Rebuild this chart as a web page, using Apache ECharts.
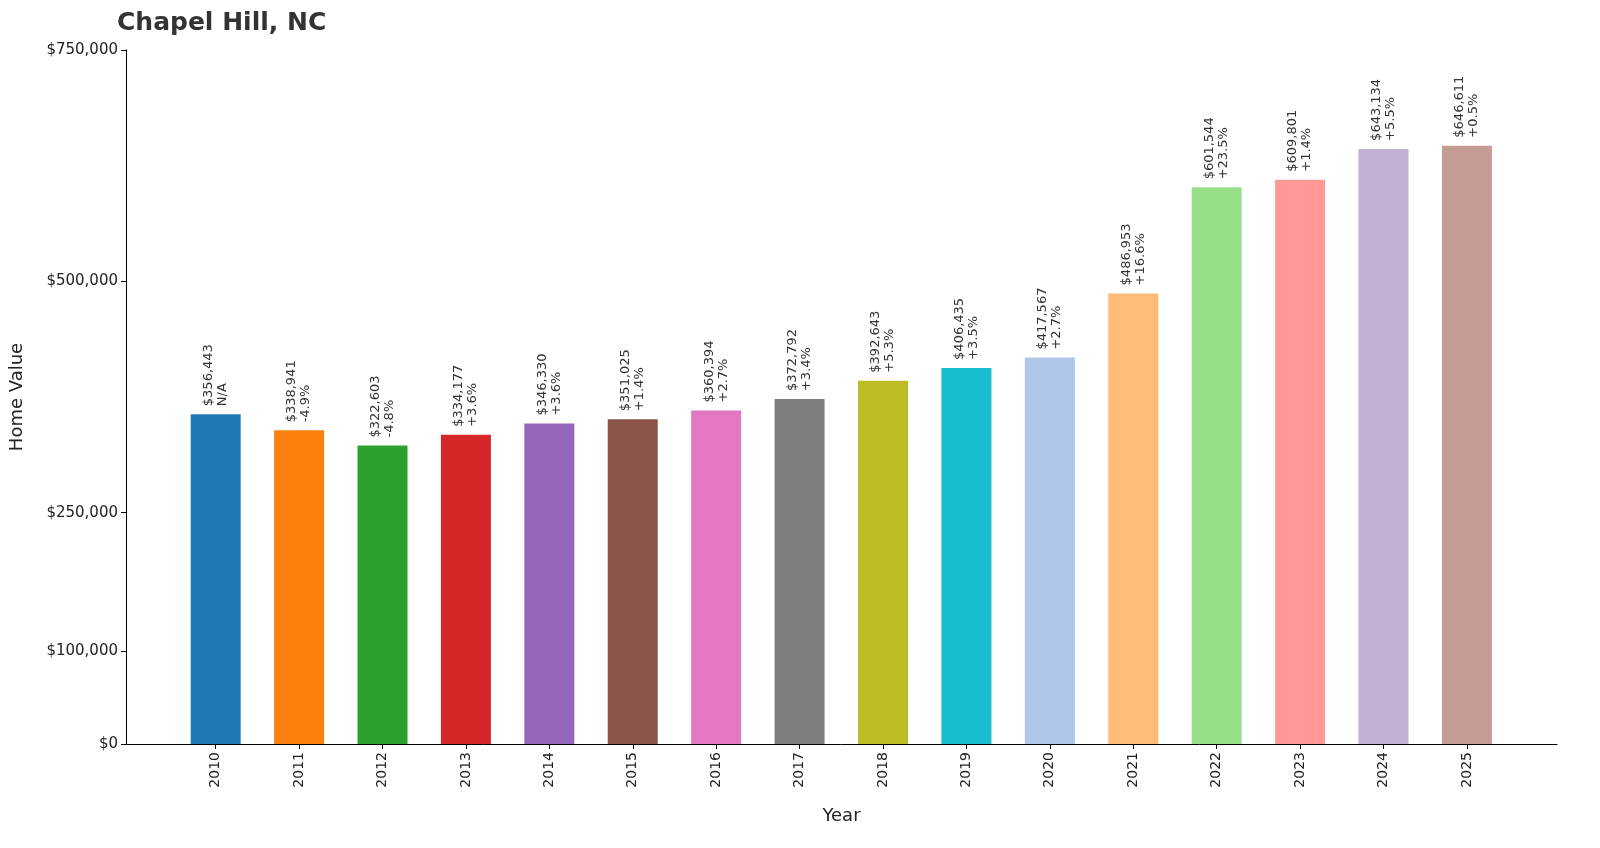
<!DOCTYPE html>
<html><head><meta charset="utf-8">
<script src="https://cdn.jsdelivr.net/npm/echarts@6/dist/echarts.min.js"></script>
<style>body{margin:0}#c{width:1600px;height:848px}</style>
</head><body><div id="c"></div>
<script>
var years = ["2010","2011","2012","2013","2014","2015","2016","2017","2018","2019","2020","2021","2022","2023","2024","2025"];
var values = [356443,338941,322603,334177,346330,351025,360394,372792,392643,406435,417567,486953,601544,609801,643134,646611];
var changes = ["N/A","-4.9%","-4.8%","+3.6%","+3.6%","+1.4%","+2.7%","+3.4%","+5.3%","+3.5%","+2.7%","+16.6%","+23.5%","+1.4%","+5.5%","+0.5%"];
var yTicks = [0,100000,250000,500000,750000];
var colors = ["#1f77b4","#ff7f0e","#2ca02c","#d62728","#9467bd","#8c564b","#e377c2","#7f7f7f","#bcbd22","#17becf","#aec7e8","#ffbb78","#98df8a","#ff9896","#c5b0d5","#c49c94"];

function money(v) { return "$" + v.toLocaleString("en-US"); }

var chart = echarts.init(document.getElementById("c"));
var font = "DejaVu Sans";
chart.setOption({
    textStyle: { fontFamily: font },
    title: { text: "Chapel Hill, NC", left: 112, top: 6, textStyle: { fontFamily: font, fontSize: 25, fontWeight: "bold", color: "#333" } },
    grid: { left: 121, right: 43, top: 50, bottom: 104 },
    xAxis: {
        type: "value", min: -1.075, max: 16.08,
        name: "Year", nameLocation: "middle", nameGap: 63,
        nameTextStyle: { fontSize: 18, color: "#222" },
        splitLine: { show: false },
        axisLine: { lineStyle: { color: "#000" } },
        axisTick: { customValues: years.map(function (y, i) { return i; }), length: 5, lineStyle: { color: "#000" } },
        axisLabel: {
            customValues: years.map(function (y, i) { return i; }),
            rotate: 90, fontSize: 14, color: "#222",
            formatter: function (v) { return years[Math.round(v)]; }
        }
    },
    yAxis: {
        type: "value", min: 0, max: 750000,
        name: "Home Value", nameLocation: "middle", nameGap: 100,
        nameTextStyle: { fontSize: 18, color: "#222" },
        splitLine: { show: false },
        axisLine: { show: true, onZero: false, lineStyle: { color: "#000" } },
        axisTick: { show: true, customValues: yTicks, length: 5, lineStyle: { color: "#000" } },
        axisLabel: { customValues: yTicks, fontSize: 15, color: "#222", formatter: function (v) { return money(v); } }
    },
    series: [{
        type: "bar", barWidth: 50,
        data: values.map(function (v, i) {
            return { value: [i, v], itemStyle: { color: colors[i] } };
        }),
        label: {
            show: true, position: "top", rotate: 90, align: "left", verticalAlign: "middle",
            distance: 8, fontSize: 13, color: "#333", lineHeight: 14,
            formatter: function (p) { return money(values[p.dataIndex]) + "\n" + changes[p.dataIndex]; }
        }
    }]
});
</script></body></html>
